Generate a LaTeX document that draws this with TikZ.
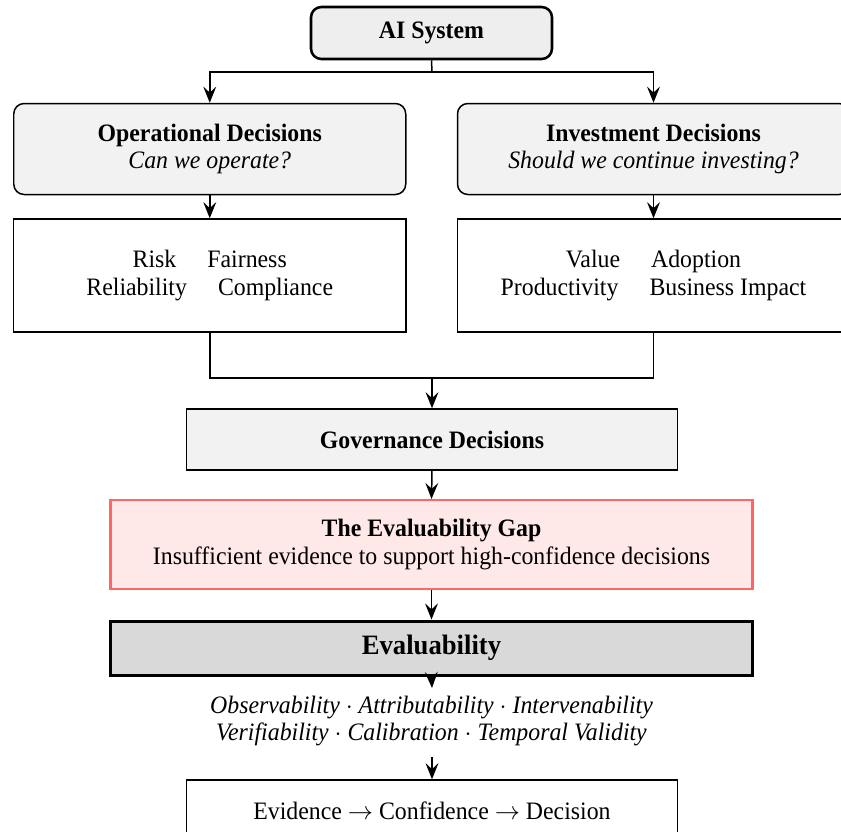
\documentclass[tikz,border=0pt]{standalone}
\usepackage{fontspec}
\setmainfont{Liberation Serif}[FakeStretch=0.95]
\usetikzlibrary{arrows.meta}
\definecolor{aifill}{HTML}{EEEEEE}
\definecolor{decfill}{HTML}{F2F2F2}
\definecolor{gapfill}{HTML}{FFE8E8}
\definecolor{gapdraw}{HTML}{FF6666}
\definecolor{evalfill}{HTML}{D9D9D9}
\tikzset{
  base/.style={draw=black, align=center, inner sep=0pt, font=\fontsize{10.9}{12.1}\selectfont},
  aibox/.style={base, fill=aifill, line width=1.1pt, rounded corners=4.5pt, font=\fontsize{10.9}{12.1}\selectfont\bfseries},
  decbox/.style={base, fill=decfill, line width=0.65pt, rounded corners=4.5pt},
  metbox/.style={base, fill=white, line width=0.65pt},
  govbox/.style={base, fill=decfill, line width=0.65pt, font=\fontsize{10.9}{12.1}\selectfont\bfseries},
  gapbox/.style={base, draw=gapdraw, fill=gapfill, line width=0.9pt},
  evalbox/.style={base, fill=evalfill, line width=1.3pt, font=\fontsize{12.2}{14}\selectfont\bfseries},
  dimtext/.style={align=center, inner sep=0pt, font=\fontsize{10.9}{12.1}\selectfont\itshape},
  conn/.style={line width=0.65pt},
  arr/.style={conn, -{Stealth[length=7pt, width=5.6pt, inset=2.6pt]}},
}
\begin{document}
\begin{tikzpicture}[x=0.4348pt, y=-0.4348pt]
\useasboundingbox (0,0) rectangle (841,831);
\clip (0,0) rectangle (841,831);

\node[aibox, minimum width=241*0.4348pt, minimum height=52*0.4348pt] (ai) at (431.5,33) {AI System};

\node[decbox, minimum width=392*0.4348pt, minimum height=91*0.4348pt] (op) at (209.75,149)
  {\textbf{Operational Decisions}\\\textit{Can we operate?}};
\node[decbox, minimum width=392*0.4348pt, minimum height=91*0.4348pt] (inv) at (653.5,149)
  {\textbf{Investment Decisions}\\\textit{Should we continue investing?}};

\node[metbox, minimum width=392*0.4348pt, minimum height=113*0.4348pt] (opm) at (209.75,275.5)
  {Risk \quad Fairness\\Reliability \quad Compliance};
\node[metbox, minimum width=392*0.4348pt, minimum height=113*0.4348pt] (invm) at (653.5,275.5)
  {Value \quad Adoption\\Productivity \quad Business Impact};

\node[govbox, minimum width=491*0.4348pt, minimum height=61*0.4348pt] (gov) at (432,439.5) {Governance Decisions};

\node[gapbox, minimum width=642*0.4348pt, minimum height=89*0.4348pt] (gap) at (431.5,544.5)
  {\textbf{The Evaluability Gap}\\Insufficient evidence to support high-confidence decisions};

\node[evalbox, minimum width=642*0.4348pt, minimum height=54*0.4348pt] (eval) at (431.5,648) {Evaluability};

\node[dimtext] (dims) at (431.5,721)
  {Observability $\cdot$ Attributability $\cdot$ Intervenability\\Verifiability $\cdot$ Calibration $\cdot$ Temporal Validity};

\node[metbox, minimum width=491*0.4348pt, minimum height=61*0.4348pt] (fin) at (432,810.5)
  {Evidence $\rightarrow$ Confidence $\rightarrow$ Decision};

\coordinate (split) at (432,72);
\coordinate (merge) at (432,378);
\coordinate (dimtop) at (432,688);
\coordinate (dimbot) at (432,757);

\draw[conn] (ai.south) -- (split);
\draw[arr] (split) -| (op.north);
\draw[arr] (split) -| (inv.north);
\draw[arr] (op.south) -- (opm.north);
\draw[arr] (inv.south) -- (invm.north);
\draw[conn] (opm.south) |- (merge);
\draw[conn] (invm.south) |- (merge);
\draw[arr] (merge) -- (gov.north);
\draw[arr] (gov.south) -- (gap.north);
\draw[arr] (gap.south) -- (eval.north);
\draw[arr] (eval.south) -- (dimtop);
\draw[arr] (dimbot) -- (fin.north);
\end{tikzpicture}
\end{document}
